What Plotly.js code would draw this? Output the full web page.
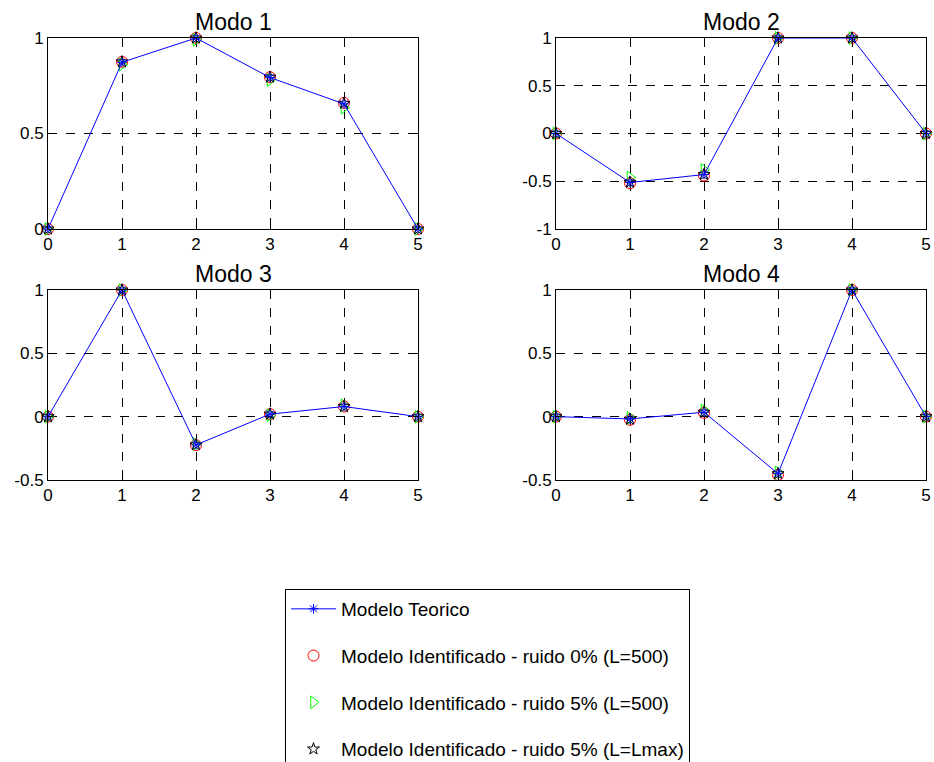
<!DOCTYPE html>
<html>
<head>
<meta charset="utf-8">
<script src="https://cdn.plot.ly/plotly-3.0.1.min.js"></script>
<style>html,body{margin:0;padding:0;background:#fff;}#chart{width:934px;height:762px;}</style>
</head>
<body>
<div id="chart"></div>
<script>
var xNodes = [0, 1, 2, 3, 4, 5];
var modeTitles = ["Modo 1", "Modo 2", "Modo 3", "Modo 4"];
var seriesNames = [
  "Modelo Teorico",
  "Modelo Identificado - ruido 0% (L=500)",
  "Modelo Identificado - ruido 5% (L=500)",
  "Modelo Identificado - ruido 5% (L=Lmax)"
];
// Modo 1
var teorico1 = [0, 0.873, 1, 0.793, 0.655, 0];
var ruido0_1 = [0, 0.875, 1, 0.795, 0.660, 0];
var ruido5_1 = [0, 0.860, 0.990, 0.780, 0.635, 0];
var lmax1    = [0, 0.875, 1, 0.795, 0.658, 0];
// Modo 2
var teorico2 = [0, -0.513, -0.430, 1, 1, 0];
var ruido0_2 = [0, -0.520, -0.440, 1, 1, 0];
var ruido5_2 = [0, -0.460, -0.380, 1, 1, 0];
var lmax2    = [0, -0.510, -0.430, 1, 1, 0];
// Modo 3
var teorico3 = [0, 1, -0.223, 0.020, 0.080, 0];
var ruido0_3 = [0, 1, -0.225, 0.020, 0.080, 0];
var ruido5_3 = [0, 1, -0.215, 0.010, 0.090, 0];
var lmax3    = [0, 1, -0.222, 0.020, 0.080, 0];
// Modo 4
var teorico4 = [0, -0.018, 0.035, -0.450, 1, 0];
var ruido0_4 = [0, -0.025, 0.030, -0.460, 1, 0];
var ruido5_4 = [0, -0.010, 0.050, -0.440, 1, 0];
var lmax4    = [0, -0.020, 0.035, -0.450, 1, 0];

var yTicks = [[0, 0.5, 1], [-1, -0.5, 0, 0.5, 1], [-0.5, 0, 0.5, 1], [-0.5, 0, 0.5, 1]];
var yRanges = [[0, 1], [-1, 1], [-0.5, 1], [-0.5, 1]];
var xTicks = [0, 1, 2, 3, 4, 5];

var allData = [
  [teorico1, ruido0_1, ruido5_1, lmax1],
  [teorico2, ruido0_2, ruido5_2, lmax2],
  [teorico3, ruido0_3, ruido5_3, lmax3],
  [teorico4, ruido0_4, ruido5_4, lmax4]
];

var W = 934, H = 762;
var xDomPx = [[48, 418], [556, 926], [48, 418], [556, 926]];
var yDomPx = [[38, 229], [38, 229], [290, 480], [290, 480]];

var styles = [
  {mode: "lines+markers", line: {color: "#0000ff", width: 1}, marker: {symbol: "asterisk-open", size: 8, color: "#0000ff", line: {color: "#0000ff", width: 1}}},
  {mode: "markers", marker: {symbol: "circle-open", size: 11, color: "#ff0000", line: {color: "#ff0000", width: 1}}},
  {mode: "markers", marker: {symbol: "triangle-right-open", size: 11, color: "#00ff00", line: {color: "#00ff00", width: 1}}},
  {mode: "markers", marker: {symbol: "star-open", size: 9, color: "#000000", line: {color: "#000000", width: 1}}}
];
var drawOrder = [1, 2, 3, 0];

var traces = [];
for (var p = 0; p < 4; p++) {
  var sfx = p === 0 ? "" : String(p + 1);
  drawOrder.forEach(function (s) {
    var st = styles[s];
    var t = {
      x: xNodes, y: allData[p][s], type: "scatter", mode: st.mode,
      name: seriesNames[s], marker: st.marker, cliponaxis: false,
      xaxis: "x" + sfx, yaxis: "y" + sfx,
      showlegend: p === 0, legendgroup: "g" + s, legendrank: s + 1,
      hoverinfo: "x+y"
    };
    if (st.line) t.line = st.line;
    traces.push(t);
  });
}

var layout = {
  width: W, height: H,
  margin: {l: 0, r: 0, t: 0, b: 0, autoexpand: false},
  paper_bgcolor: "#ffffff", plot_bgcolor: "#ffffff",
  font: {family: "Liberation Sans, Arial, sans-serif", size: 17, color: "#000"},
  showlegend: true,
  legend: {
    x: 285 / W, y: 1 - 589 / H, xanchor: "left", yanchor: "top",
    bordercolor: "#000", borderwidth: 1, bgcolor: "#fff",
    font: {size: 19, color: "#000"}, tracegroupgap: 19, itemwidth: 45,
    traceorder: "grouped"
  },
  annotations: [],
  hovermode: "closest"
};

for (var p = 0; p < 4; p++) {
  var sfx = p === 0 ? "" : String(p + 1);
  var xd = [xDomPx[p][0] / W, xDomPx[p][1] / W];
  var yd = [1 - yDomPx[p][1] / H, 1 - yDomPx[p][0] / H];
  var common = {
    showgrid: true, gridcolor: "#000", griddash: "dash", gridwidth: 0.8,
    showline: true, linecolor: "#000", linewidth: 1, mirror: "ticks",
    ticks: "inside", ticklen: 5, tickcolor: "#000",
    zeroline: false, tickfont: {size: 17, color: "#000"}, fixedrange: true
  };
  var xa = Object.assign({}, common, {domain: xd, range: [0, 5], tickvals: xTicks, ticktext: xTicks.map(String), anchor: "y" + sfx});
  var ya = Object.assign({}, common, {domain: yd, range: yRanges[p], tickvals: yTicks[p], ticktext: yTicks[p].map(String), anchor: "x" + sfx});
  layout["xaxis" + sfx] = xa;
  layout["yaxis" + sfx] = ya;
  layout.annotations.push({
    text: modeTitles[p], showarrow: false, xref: "paper", yref: "paper",
    x: (xDomPx[p][0] + xDomPx[p][1]) / 2 / W, y: 1 - (yDomPx[p][0] - 1) / H,
    xanchor: "center", yanchor: "bottom", font: {size: 23, color: "#000"}
  });
}

Plotly.newPlot("chart", traces, layout, {displayModeBar: false, staticPlot: false});
</script>
</body>
</html>
